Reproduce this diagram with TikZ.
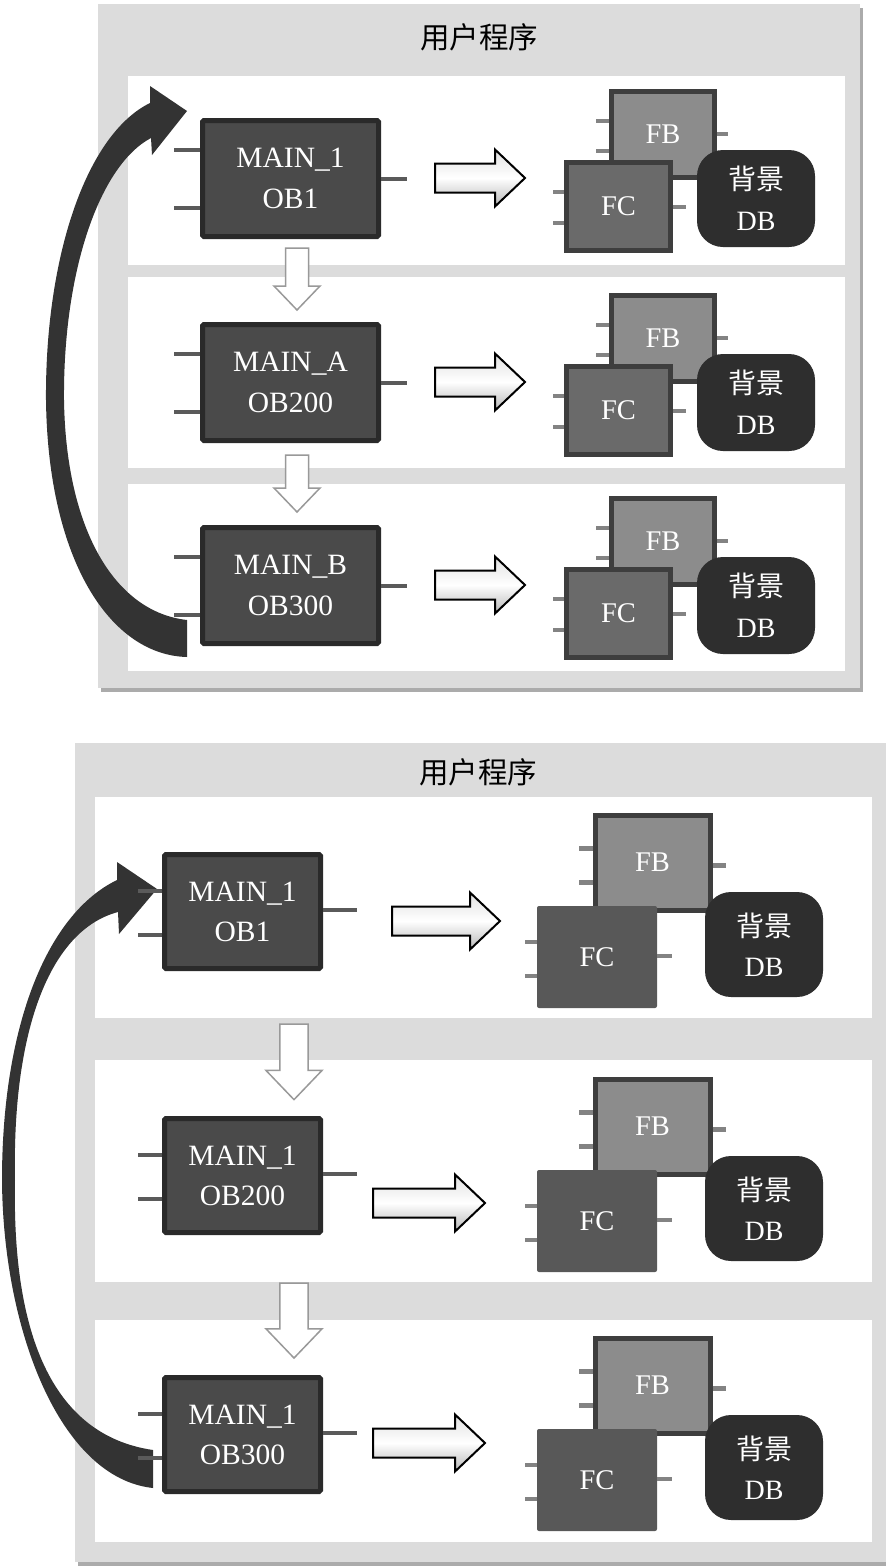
\documentclass[tikz,border=0pt]{standalone}
\usepackage{fontspec}
\setmainfont{Liberation Serif}
\newfontfamily\cjk{Noto Sans CJK SC}
\usetikzlibrary{calc,positioning}
\definecolor{panelgray}{HTML}{DCDCDC}
\definecolor{panelshade}{HTML}{ABABAB}
\definecolor{obedge}{HTML}{2A2A2A}
\definecolor{obfill}{HTML}{4A4A4A}
\definecolor{fbedge}{HTML}{3E3E3E}
\definecolor{fbfill}{HTML}{8C8C8C}
\definecolor{fcfill}{HTML}{6A6A6A}
\definecolor{fcflat}{HTML}{585858}
\definecolor{dbfill}{HTML}{2E2E2E}
\definecolor{leadgray}{HTML}{5A5A5A}
\definecolor{swoosh}{HTML}{333333}
\tikzset{
  panel/.style={fill=panelgray},
  lane/.style={fill=white},
  ttl/.style={font=\cjk\fontsize{29.5}{31}\selectfont, inner sep=0pt},
  obbox/.style={draw=obedge, fill=obfill, line width=5pt, rounded corners=1.5pt, text=white, align=center, inner sep=0pt, font=\fontsize{29.5}{41}\selectfont},
  fbbox/.style={draw=fbedge, fill=fbfill, line width=5pt, text=white, inner sep=0pt, font=\fontsize{28.5}{30}\selectfont},
  fcbox/.style={fbbox, fill=fcfill},
  fcplain/.style={fill=fcflat, rounded corners=2pt, text=white, inner sep=0pt, font=\fontsize{28.5}{30}\selectfont},
  dbcyl/.style={fill=dbfill, rounded corners=26pt, text=white, align=center, inner sep=0pt, font=\fontsize{28}{41}\selectfont},
  lead/.style={draw=leadgray, line width=4.5pt},
  sublead/.style={draw=leadgray!75, line width=4.5pt},
  rarrline/.style={draw=black, line width=2pt, top color=black!12, bottom color=black!28, middle color=white},
  darrline/.style={draw=black!40, fill=white, line width=1.5pt},
  pics/rarr/.style={code={
    \draw[rarrline] (0,-14.5) -- (#1-30,-14.5) -- (#1-30,-28.5) -- (#1,0) -- (#1-30,28.5) -- (#1-30,14.5) -- (0,14.5) -- cycle;}},
  pics/darr/.style={code={
    \draw[darrline] (-11.5,0) -- (-11.5,#1-24) -- (-23,#1-24) -- (0,#1) -- (23,#1-24) -- (11.5,#1-24) -- (11.5,0) -- cycle;}}
}
\begin{document}
\begin{tikzpicture}[x=1pt,y=-1pt]
\useasboundingbox (0,0) rectangle (886,1567);

% upper panel
\fill[panelshade] (101,8) rectangle (863,692);
\fill[panel] (98,4) rectangle (860,688);
\foreach \ya/\yb in {76/265, 277/468, 484/671}
  \fill[lane] (128,\ya) rectangle (845,\yb);
\node[ttl] (title1) at (479,37) {用户程序};

% return arrow OB300 -> OB1
\fill[swoosh] (187,657) .. controls (110,655) and (48,560) .. (46,400)
  .. controls (45,260) and (85,135) .. (150,103)
  -- (150,86) -- (187,111) -- (152,155) -- (151,138)
  .. controls (100,165) and (63,270) .. (64,400)
  .. controls (66,530) and (115,612) .. (187,620) -- cycle;

\foreach \dy/\nm/\ob [count=\i] in {0/MAIN\_1/OB1, 204/MAIN\_A/OB200, 407/MAIN\_B/OB300} {
  \node[obbox, minimum width=176pt, minimum height=116pt] (ua\i) at (290.5,178.5+\dy) {\nm\\\ob};
  \draw[lead] ($(ua\i.north west)+(0,32)$) -- ++(-26,0);
  \draw[lead] ($(ua\i.north west)+(0,90)$) -- ++(-26,0);
  \draw[lead] ($(ua\i.north east)+(0,61)$) -- ++(26,0);
  \pic at (435,178+\dy) {rarr=90};
  % called blocks
  \node[fbbox, minimum width=103pt, minimum height=86pt] (ufb\i) at (663,134.5+\dy) {FB};
  \draw[sublead] ($(ufb\i.north west)+(0,32)$) -- ++(-13,0);
  \draw[sublead] ($(ufb\i.north west)+(0,62)$) -- ++(-13,0);
  \draw[sublead] ($(ufb\i.north east)+(0,45)$) -- ++(11,0);
  \node[fcbox, minimum width=104pt, minimum height=88pt] (ufc\i) at (618.5,206.5+\dy) {FC};
  \draw[sublead] ($(ufc\i.north west)+(0,32)$) -- ++(-11,0);
  \draw[sublead] ($(ufc\i.north west)+(0,63)$) -- ++(-11,0);
  \draw[sublead] ($(ufc\i.north east)+(0,47)$) -- ++(13,0);
  \node[dbcyl, minimum width=118pt, minimum height=97pt] (udb\i) at (756,198.5+\dy) {{\cjk 背景}\\DB};
}
\pic at (297,248) {darr=62};
\pic at (297,455) {darr=57};

% lower panel
\fill[panelshade] (78,747) rectangle (889,1566);
\fill[panel] (75,743) rectangle (886,1562);
\foreach \ya/\yb in {797/1018, 1060/1282, 1320/1542}
  \fill[lane] (95,\ya) rectangle (872,\yb);
\node[ttl] (title2) at (478,772) {用户程序};

% return arrow OB300 -> OB1
\fill[swoosh] (153,1488) .. controls (60,1478) and (3,1330) .. (2,1180)
  .. controls (2,1030) and (45,915) .. (117,880)
  -- (117,862) -- (157,889) -- (119,934) -- (118,912)
  .. controls (50,930) and (12,1030) .. (15,1180)
  .. controls (12,1330) and (50,1435) .. (153,1450) -- cycle;

\foreach \dy/\ob [count=\i] in {0/OB1, 264/OB200, 523/OB300} {
  \node[obbox, minimum width=156pt, minimum height=114pt, font=\fontsize{29.5}{40}\selectfont] (la\i) at (242.5,911.5+\dy) {MAIN\_1\\\ob};
  \draw[lead] ($(la\i.north west)+(0,39)$) -- ++(-24,0);
  \draw[lead] ($(la\i.north west)+(0,83)$) -- ++(-24,0);
  \draw[lead] ($(la\i.north east)+(0,58)$) -- ++(34,0);
  % called blocks
  \node[fbbox, minimum width=115pt, minimum height=95pt] (lfb\i) at (652.5,862.5+\dy) {FB};
  \draw[sublead] ($(lfb\i.north west)+(0,36)$) -- ++(-14,0);
  \draw[sublead] ($(lfb\i.north west)+(0,70)$) -- ++(-14,0);
  \draw[sublead] ($(lfb\i.north east)+(0,53)$) -- ++(13,0);
  \node[fcplain, minimum width=120pt, minimum height=102pt] (lfc\i) at (597,957+\dy) {FC};
  \draw[sublead] ($(lfc\i.north west)+(0,36)$) -- ++(-12,0);
  \draw[sublead] ($(lfc\i.north west)+(0,70)$) -- ++(-12,0);
  \draw[sublead] ($(lfc\i.north east)+(0,50)$) -- ++(15,0);
  \node[dbcyl, minimum width=118pt, minimum height=105pt, font=\fontsize{28}{40}\selectfont] (ldb\i) at (764,944.5+\dy) {{\cjk 背景}\\DB};
}
\foreach \ax/\ay/\al in {392/921/108, 373/1203/112, 373/1443/112}
  \pic at (\ax,\ay) {rarr=\al};
\pic[scale=1.22] at (294,1024) {darr=62};
\pic[scale=1.22] at (294,1283) {darr=61.5};
\end{tikzpicture}
\end{document}
